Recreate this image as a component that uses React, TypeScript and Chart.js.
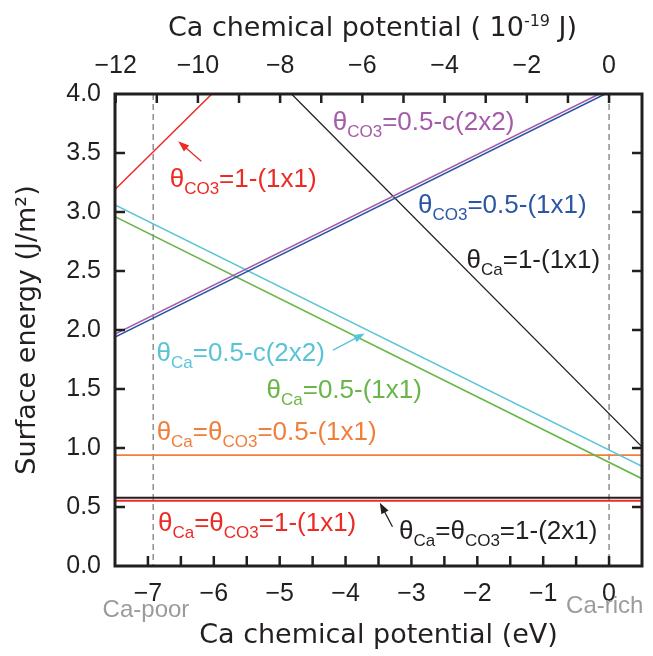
import { useEffect, useRef } from 'react';
import { Chart, registerables } from 'chart.js';

Chart.register(...registerables);

// 1 eV expressed in units of 10^-19 J
const EV_IN_1E19J = 1.602176634;

// Axis ranges
const muRange = [-7.5, 0.5];
const energyRange = [0, 4.0];

// Tick values
const muTickLabels = [-7, -6, -5, -4, -3, -2, -1, 0];
const muTickMarks = [-7, -6.5, -6, -5.5, -5, -4.5, -4, -3.5, -3, -2.5, -2, -1.5, -1, -0.5, 0];
const jouleTickLabels = [-12, -10, -8, -6, -4, -2, 0];
const jouleTickMarks = [-12, -11, -10, -9, -8, -7, -6, -5, -4, -3, -2, -1, 0];
const energyTickLabels = [0, 0.5, 1.0, 1.5, 2.0, 2.5, 3.0, 3.5, 4.0];
const energyTickMarks = [0.5, 1.0, 1.5, 2.0, 2.5, 3.0, 3.5];

// Ca-poor / Ca-rich limits of the chemical potential (eV)
const muLimits = [-6.92, 0];

// Surface energy lines: endpoints (Ca chemical potential in eV, surface energy in J/m²)
const co3Full1x1Mu = [-7.5, -6.03];
const co3Full1x1E = [3.19, 4.0];
const co3HalfC2x2Mu = [-7.5, 0.5];
const co3HalfC2x2E = [1.965, 4.18];
const co3Half1x1Mu = [-7.5, 0.5];
const co3Half1x1E = [1.94, 4.155];
const caFull1x1Mu = [-4.82, 0.5];
const caFull1x1E = [4.0, 1.01];
const caHalfC2x2Mu = [-7.5, 0.5];
const caHalfC2x2E = [3.06, 0.845];
const caHalf1x1Mu = [-7.5, 0.5];
const caHalf1x1E = [2.96, 0.74];
const stoichHalf1x1Mu = [-7.5, 0.5];
const stoichHalf1x1E = [0.94, 0.94];
const stoich2x1Mu = [-7.5, 0.5];
const stoich2x1E = [0.578, 0.578];
const stoich1x1Mu = [-7.5, 0.5];
const stoich1x1E = [0.553, 0.553];

const RED = '#ec2b25';
const PURPLE = '#a45ca9';
const BLUE = '#2a56a6';
const BLACK = '#231f20';
const CYAN = '#59c4d8';
const GREEN = '#68b548';
const ORANGE = '#f07f3c';
const GRAY = '#8f8f8f';

const TICK_FONT = '"Liberation Sans", Arial, sans-serif';
const TITLE_FONT = '"DejaVu Sans", sans-serif';

type Part = [string, boolean?];

// Curve labels, anchored at their left baseline in data coordinates
const curveLabels: { parts: Part[]; color: string; mu: number; e: number }[] = [
  { parts: [['θ'], ['CO3', true], ['=1-(1x1)']], color: RED, mu: -6.67, e: 3.21 },
  { parts: [['θ'], ['CO3', true], ['=0.5-c(2x2)']], color: PURPLE, mu: -4.195, e: 3.695 },
  { parts: [['θ'], ['CO3', true], ['=0.5-(1x1)']], color: BLUE, mu: -2.9, e: 2.99 },
  { parts: [['θ'], ['Ca', true], ['=1-(1x1)']], color: BLACK, mu: -2.164, e: 2.525 },
  { parts: [['θ'], ['Ca', true], ['=0.5-c(2x2)']], color: CYAN, mu: -6.87, e: 1.737 },
  { parts: [['θ'], ['Ca', true], ['=0.5-(1x1)']], color: GREEN, mu: -5.2, e: 1.424 },
  { parts: [['θ'], ['Ca', true], ['=θ'], ['CO3', true], ['=0.5-(1x1)']], color: ORANGE, mu: -6.868, e: 1.068 },
  { parts: [['θ'], ['Ca', true], ['=θ'], ['CO3', true], ['=1-(1x1)']], color: RED, mu: -6.848, e: 0.297 },
  { parts: [['θ'], ['Ca', true], ['=θ'], ['CO3', true], ['=1-(2x1)']], color: BLACK, mu: -3.188, e: 0.229 },
];

// Pointer arrows (tail → head) in data coordinates
const pointers: { from: [number, number]; to: [number, number]; color: string }[] = [
  { from: [-6.19, 3.43], to: [-6.54, 3.6], color: RED },
  { from: [-4.19, 1.83], to: [-3.71, 1.97], color: CYAN },
  { from: [-3.288, 0.333], to: [-3.48, 0.536], color: BLACK },
];

function drawRich(ctx: CanvasRenderingContext2D, parts: Part[], x: number, y: number, color: string) {
  let cx = x;
  ctx.fillStyle = color;
  ctx.textAlign = 'left';
  ctx.textBaseline = 'alphabetic';
  for (const [t, sub] of parts) {
    ctx.font = sub ? `17px ${TICK_FONT}` : `26px ${TICK_FONT}`;
    ctx.fillText(t, cx, sub ? y + 7 : y);
    cx += ctx.measureText(t).width;
  }
}

function drawArrow(ctx: CanvasRenderingContext2D, x1: number, y1: number, x2: number, y2: number, color: string) {
  const ang = Math.atan2(y2 - y1, x2 - x1);
  const c = Math.cos(ang);
  const s = Math.sin(ang);
  const hl = 11;
  const hw = 4;
  ctx.strokeStyle = color;
  ctx.fillStyle = color;
  ctx.lineWidth = 1.3;
  ctx.setLineDash([]);
  ctx.beginPath();
  ctx.moveTo(x1, y1);
  ctx.lineTo(x2 - hl * 0.8 * c, y2 - hl * 0.8 * s);
  ctx.stroke();
  ctx.beginPath();
  ctx.moveTo(x2, y2);
  ctx.lineTo(x2 - hl * c + hw * s, y2 - hl * s - hw * c);
  ctx.lineTo(x2 - hl * c - hw * s, y2 - hl * s + hw * c);
  ctx.closePath();
  ctx.fill();
}

const decorPlugin = {
  id: 'surfaceDecor',
  beforeDatasetsDraw(chart: any) {
    const { ctx, chartArea: a, scales } = chart;
    const x = scales.x;
    ctx.save();
    ctx.beginPath();
    ctx.rect(a.left, a.top, a.right - a.left, a.bottom - a.top);
    ctx.clip();
    ctx.strokeStyle = GRAY;
    ctx.lineWidth = 1.5;
    ctx.setLineDash([6, 4]);
    for (const v of muLimits) {
      const px = x.getPixelForValue(v);
      ctx.beginPath();
      ctx.moveTo(px, a.top);
      ctx.lineTo(px, a.bottom);
      ctx.stroke();
    }
    ctx.restore();
  },
  afterDraw(chart: any) {
    const { ctx, chartArea: a, scales } = chart;
    const x = scales.x;
    const x2 = scales.x2;
    const y = scales.y;
    ctx.save();

    // inward tick marks
    ctx.strokeStyle = BLACK;
    ctx.lineWidth = 2.5;
    ctx.setLineDash([]);
    const tl = 10;
    ctx.beginPath();
    for (const v of muTickMarks) {
      const px = x.getPixelForValue(v);
      ctx.moveTo(px, a.bottom);
      ctx.lineTo(px, a.bottom - tl);
    }
    for (const v of jouleTickMarks) {
      const px = x2.getPixelForValue(v);
      ctx.moveTo(px, a.top);
      ctx.lineTo(px, a.top + 9);
    }
    for (const v of energyTickMarks) {
      const py = y.getPixelForValue(v);
      ctx.moveTo(a.left, py);
      ctx.lineTo(a.left + tl, py);
      ctx.moveTo(a.right, py);
      ctx.lineTo(a.right - tl, py);
    }
    ctx.stroke();

    // frame
    ctx.lineWidth = 3;
    ctx.strokeRect(a.left, a.top, a.right - a.left, a.bottom - a.top);

    // curve labels and pointers
    for (const l of curveLabels) {
      drawRich(ctx, l.parts, x.getPixelForValue(l.mu), y.getPixelForValue(l.e), l.color);
    }
    for (const p of pointers) {
      drawArrow(
        ctx,
        x.getPixelForValue(p.from[0]), y.getPixelForValue(p.from[1]),
        x.getPixelForValue(p.to[0]), y.getPixelForValue(p.to[1]),
        p.color,
      );
    }

    // Ca-poor / Ca-rich notes
    ctx.fillStyle = '#9b9b9b';
    ctx.font = `24px ${TICK_FONT}`;
    ctx.textBaseline = 'alphabetic';
    ctx.textAlign = 'center';
    ctx.fillText('Ca-poor', x.getPixelForValue(-7.03), a.bottom + 51);
    ctx.textAlign = 'left';
    ctx.fillText('Ca-rich', x.getPixelForValue(0) - 43, a.bottom + 47);

    // top axis title with superscript exponent
    const main1 = 'Ca chemical potential ( 10';
    const sup = '-19';
    const main2 = ' J)';
    ctx.fillStyle = BLACK;
    ctx.font = `27px ${TITLE_FONT}`;
    const w1 = ctx.measureText(main1).width;
    const w3 = ctx.measureText(main2).width;
    ctx.font = `16px ${TITLE_FONT}`;
    const w2 = ctx.measureText(sup).width;
    const total = w1 + w2 + w3;
    let tx = (a.left + a.right) / 2 - total / 2 - 6;
    const ty = 36;
    ctx.font = `27px ${TITLE_FONT}`;
    ctx.fillText(main1, tx, ty);
    tx += w1;
    ctx.font = `16px ${TITLE_FONT}`;
    ctx.fillText(sup, tx, ty - 10);
    tx += w2;
    ctx.font = `27px ${TITLE_FONT}`;
    ctx.fillText(main2, tx, ty);

    ctx.restore();
  },
};

const minus = (v: number) => String(v).replace('-', '\u2212');

function line(label: string, xs: number[], ys: number[], color: string, width: number) {
  return {
    label,
    data: xs.map((v, i) => ({ x: v, y: ys[i] })),
    borderColor: color,
    backgroundColor: color,
    borderWidth: width,
    showLine: true,
    pointRadius: 0,
    fill: false,
  };
}

export default function App() {
  const canvasRef = useRef<HTMLCanvasElement | null>(null);

  useEffect(() => {
    const canvas = canvasRef.current;
    if (!canvas) return;
    const chart = new Chart(canvas, {
      type: 'scatter',
      data: {
        datasets: [
          line('θCO3=1-(1x1)', co3Full1x1Mu, co3Full1x1E, RED, 1.5),
          line('θCO3=0.5-c(2x2)', co3HalfC2x2Mu, co3HalfC2x2E, PURPLE, 1.6),
          line('θCO3=0.5-(1x1)', co3Half1x1Mu, co3Half1x1E, BLUE, 1.6),
          line('θCa=1-(1x1)', caFull1x1Mu, caFull1x1E, BLACK, 1.3),
          line('θCa=0.5-c(2x2)', caHalfC2x2Mu, caHalfC2x2E, CYAN, 1.6),
          line('θCa=0.5-(1x1)', caHalf1x1Mu, caHalf1x1E, GREEN, 1.6),
          line('θCa=θCO3=0.5-(1x1)', stoichHalf1x1Mu, stoichHalf1x1E, ORANGE, 1.8),
          line('θCa=θCO3=1-(2x1)', stoich2x1Mu, stoich2x1E, BLACK, 2),
          line('θCa=θCO3=1-(1x1)', stoich1x1Mu, stoich1x1E, RED, 2),
        ],
      },
      options: {
        responsive: false,
        animation: false,
        devicePixelRatio: 1,
        layout: { padding: { left: 0, right: 11, top: 0, bottom: 0 } },
        plugins: { legend: { display: false }, tooltip: { enabled: false } },
        scales: {
          x: {
            type: 'linear',
            position: 'bottom',
            min: muRange[0],
            max: muRange[1],
            grid: { display: false, drawTicks: false },
            border: { display: false },
            afterBuildTicks: (s: any) => { s.ticks = muTickLabels.map((v) => ({ value: v })); },
            afterFit: (s: any) => { s.height = 90; },
            ticks: {
              autoSkip: false,
              maxRotation: 0,
              padding: 13,
              color: BLACK,
              font: { family: TICK_FONT, size: 25 },
              callback: (v: any) => minus(Number(v)),
            },
            title: {
              display: true,
              text: 'Ca chemical potential (eV)',
              color: BLACK,
              font: { family: TITLE_FONT, size: 27 },
              padding: { top: 0, bottom: 4 },
            },
          },
          x2: {
            type: 'linear',
            position: 'top',
            min: muRange[0] * EV_IN_1E19J,
            max: muRange[1] * EV_IN_1E19J,
            grid: { display: false, drawTicks: false },
            border: { display: false },
            afterBuildTicks: (s: any) => { s.ticks = jouleTickLabels.map((v) => ({ value: v })); },
            afterFit: (s: any) => { s.height = 94; },
            ticks: {
              autoSkip: false,
              maxRotation: 0,
              padding: 13,
              color: BLACK,
              font: { family: TICK_FONT, size: 25 },
              callback: (v: any) => minus(Number(v)),
            },
          },
          y: {
            type: 'linear',
            position: 'left',
            min: energyRange[0],
            max: energyRange[1],
            grid: { display: false, drawTicks: false },
            border: { display: false },
            afterBuildTicks: (s: any) => { s.ticks = energyTickLabels.map((v) => ({ value: v })); },
            afterFit: (s: any) => { s.width = 115; },
            ticks: {
              padding: 14,
              color: BLACK,
              font: { family: TICK_FONT, size: 25 },
              callback: (v: any) => Number(v).toFixed(1),
            },
            title: {
              display: true,
              text: 'Surface energy (J/m²)',
              color: BLACK,
              font: { family: TITLE_FONT, size: 27 },
              padding: { top: 12, bottom: 0 },
            },
          },
        },
      },
      plugins: [decorPlugin],
    });
    return () => chart.destroy();
  }, []);

  return (
    <div style={{ position: 'absolute', left: 0, top: 0, width: 653, height: 656, background: '#fff' }}>
      <canvas ref={canvasRef} width={653} height={656} style={{ display: 'block' }} />
    </div>
  );
}
